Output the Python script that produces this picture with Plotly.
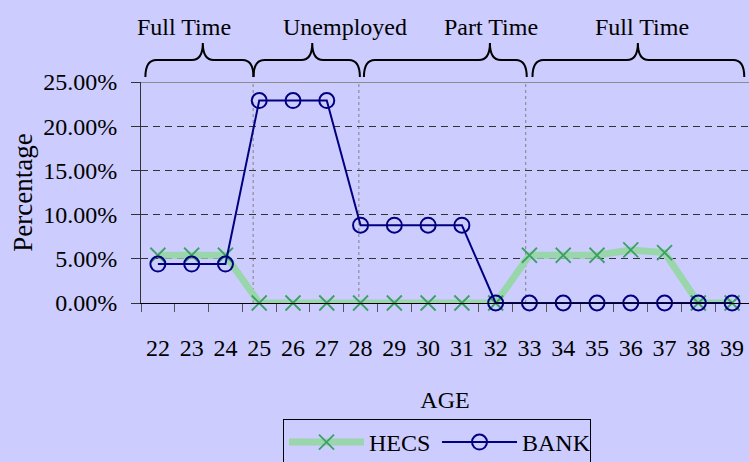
import plotly.graph_objects as go

# ---------------- data ----------------
ages = [str(a) for a in range(22, 40)]
hecs = [0.054, 0.054, 0.054, 0.0, 0.0, 0.0, 0.0, 0.0, 0.0, 0.0, 0.0,
        0.054, 0.054, 0.054, 0.060, 0.057, 0.0, 0.0]
bank = [0.044, 0.044, 0.044, 0.229, 0.229, 0.229, 0.088, 0.088, 0.088, 0.088,
        0.0, 0.0, 0.0, 0.0, 0.0, 0.0, 0.0, 0.0]
y_ticks = [0.0, 0.05, 0.10, 0.15, 0.20, 0.25]

phase_labels = ["Full Time", "Unemployed", "Part Time", "Full Time"]
# phase spans in category-index units (0 = age 22)
phase_start = [-0.37, 2.83, 6.10, 11.09]
phase_end = [2.83, 5.98, 10.92, 17.36]
phase_tip = [1.33, 4.57, 9.83, 14.21]
phase_label_at = [0.76, 5.53, 9.86, 14.32]
dividers = [2.82, 5.95, 10.89]

# ---------------- layout constants ----------------
W, H = 749, 462
ML, MR, MT, MB = 141, 0, 82, 159
PW, PH = W - ML - MR, H - MT - MB
N = len(ages)
BG = "#CCCCFF"
FONT = "Liberation Serif, Times New Roman, serif"


def px_x(i):
    """category index -> paper x"""
    return (i + 0.5) / N


def py_y(py):
    """pixel y (from top) -> paper y"""
    return (H - MB - py) / PH


fig = go.Figure()
fig.add_trace(go.Scatter(
    x=ages, y=hecs, name="HECS", mode="lines+markers",
    line=dict(color="#9AD6AC", width=7),
    marker=dict(symbol="x-thin", size=15, line=dict(color="#3CA064", width=1.8),
                color="#3CA064"),
    cliponaxis=False,
))
fig.add_trace(go.Scatter(
    x=ages, y=bank, name="BANK", mode="lines+markers",
    line=dict(color="#000080", width=2),
    marker=dict(symbol="circle-open", size=15, color="#000080",
                line=dict(color="#000080", width=2)),
    cliponaxis=False,
))

shapes = []
# top border line at 25%
shapes.append(dict(type="line", xref="paper", yref="y", x0=0, x1=1, y0=0.25, y1=0.25,
                   line=dict(color="#8C8C8C", width=2), layer="above"))
# dotted dividers
for d in dividers:
    shapes.append(dict(type="line", xref="paper", yref="paper", x0=px_x(d), x1=px_x(d),
                       y0=0, y1=1, line=dict(color="#808080", width=1, dash="dot"),
                       layer="below"))
# braces
yb, ym, yt = py_y(77), py_y(60), py_y(43)
rx = 11 / PW
for s, e, t in zip(phase_start, phase_end, phase_tip):
    x0, x1, xt = px_x(s), px_x(e), px_x(t)
    path = (f"M{x0},{yb} Q{x0},{ym} {x0+rx},{ym} L{xt-rx},{ym} "
            f"Q{xt},{ym} {xt},{yt} Q{xt},{ym} {xt+rx},{ym} "
            f"L{x1-rx},{ym} Q{x1},{ym} {x1},{yb}")
    shapes.append(dict(type="path", xref="paper", yref="paper", path=path,
                       line=dict(color="black", width=2)))

annotations = []
for lab, pos in zip(phase_labels, phase_label_at):
    annotations.append(dict(text=lab, xref="paper", yref="paper", x=px_x(pos),
                            y=py_y(27), xanchor="center", yanchor="middle",
                            showarrow=False, font=dict(family=FONT, size=24, color="black")))

fig.update_layout(
    width=W, height=H,
    margin=dict(l=ML, r=MR, t=MT, b=MB, autoexpand=False),
    paper_bgcolor=BG, plot_bgcolor=BG,
    font=dict(family=FONT, size=24, color="black"),
    shapes=shapes, annotations=annotations,
    showlegend=True,
    legend=dict(orientation="h", x=(283 - ML) / PW, y=py_y(419), xanchor="left",
                yanchor="top", bgcolor=BG, bordercolor="black", borderwidth=1,
                font=dict(family=FONT, size=24, color="black"),
                entrywidth=63, itemwidth=75),
    xaxis=dict(type="category", categoryorder="array", categoryarray=ages,
               range=[-0.5, N - 0.5], tickson="boundaries", ticks="outside",
               ticklen=8, tickcolor="#555555", showline=True, linecolor="black",
               linewidth=1, showgrid=False, zeroline=False,
               tickfont=dict(family=FONT, size=24, color="black"),
               ticklabelstandoff=23,
               title=dict(text="AGE", standoff=31,
                          font=dict(family=FONT, size=24, color="black"))),
    yaxis=dict(range=[0, 0.25], tickvals=y_ticks, tickformat=".2%", ticks="outside",
               ticklen=9, tickcolor="#333333", showline=True, linecolor="#333333",
               linewidth=1, showgrid=True, gridcolor="#333333", gridwidth=1,
               griddash="7px,5px", zeroline=False,
               tickfont=dict(family=FONT, size=24, color="black"),
               ticklabelstandoff=9,
               title=dict(text="Percentage", standoff=2,
                          font=dict(family=FONT, size=27, color="black"))),
)

fig.write_html("out.html",
               config={"displayModeBar": False},
               post_script="document.body.style.margin='0';"
                           "document.body.style.background='#CCCCFF';")
